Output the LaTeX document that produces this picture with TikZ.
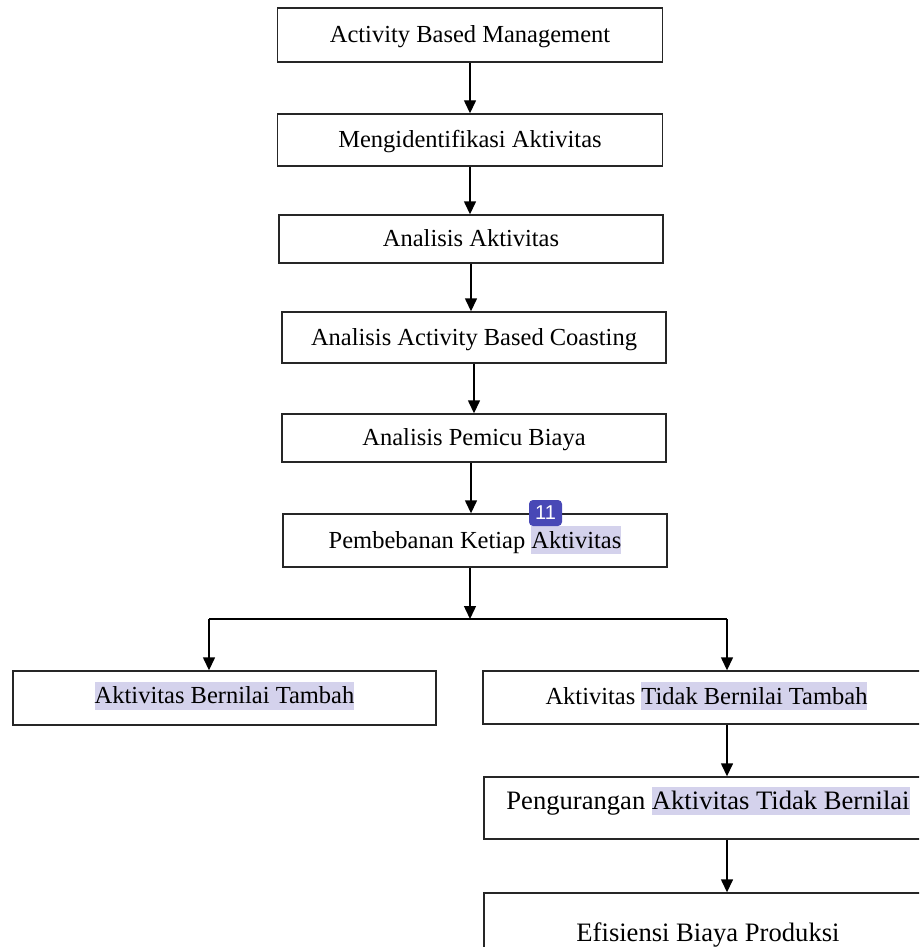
\documentclass[tikz,border=0pt]{standalone}
\usepackage{fontspec}
\setmainfont{Liberation Serif}
\newfontfamily\badgefont{Liberation Sans}
\usetikzlibrary{arrows.meta}
\definecolor{hlcol}{RGB}{212,210,236}
\definecolor{badgecol}{RGB}{72,72,182}
\newcommand{\hlt}[1]{{\setlength{\fboxsep}{0pt}\colorbox{hlcol}{\rule[-6pt]{0pt}{28pt}#1}}}
\begin{document}
\begin{tikzpicture}[x=1pt,y=-1pt,
  box/.style={draw=black!85,line width=1.4pt,inner sep=0pt,text height=15pt,text depth=0pt,
    font=\fontsize{24.5}{29}\selectfont},
  bigbox/.style={box,font=\fontsize{26.6}{31}\selectfont},
  arr/.style={line width=1.4pt,-{Triangle[width=12pt,length=13pt]}}]
\useasboundingbox (0,0) rectangle (919,947);
\clip (0,0) rectangle (919,947);
\node [box,minimum width=385pt,minimum height=54pt] (abm) at (470,35) {Activity Based Management};
\node [box,minimum width=385pt,minimum height=52pt] (ida) at (470,140) {Mengidentifikasi Aktivitas};
\node [box,minimum width=384pt,minimum height=48pt] (ana) at (471,239) {Analisis Aktivitas};
\node [box,minimum width=384pt,minimum height=51pt] (abc) at (474,337.5) {Analisis Activity Based Coasting};
\node [box,minimum width=384pt,minimum height=48pt] (apb) at (474,438) {Analisis Pemicu Biaya};
\node [box,minimum width=384pt,minimum height=53pt] (pka) at (475,540.5) {Pembebanan Ketiap \hlt{Aktivitas}};
\node [box,minimum width=423pt,minimum height=54pt,text height=11pt] (abt) at (224.5,698) {\hlt{Aktivitas Bernilai Tambah}};
\node [box,minimum width=447pt,minimum height=53pt,text height=13pt] (atbt) at (706.5,697.5) {Aktivitas \hlt{Tidak Bernilai Tambah}};
\node [bigbox,minimum width=448pt,text height=32pt,text depth=30pt] (pat) at (708,808) {Pengurangan \hlt{Aktivitas Tidak Bernilai}};
\node [bigbox,minimum width=448pt,text height=48pt,text depth=42pt] (ebp) at (708,938) {Efisiensi Biaya Produksi};
\coordinate (sp) at (470,619);
\coordinate (spL) at (209,619);
\coordinate (spR) at (727,619);
\draw [arr] (abm) -- (ida);
\draw [arr] (ida) -- (ida |- ana.north);
\draw [arr] (ana) -- (ana |- abc.north);
\draw [arr] (abc.south) -- (abc.south |- apb.north);
\draw [arr] (apb.south) ++(-3,0) coordinate (apbS) -- (apbS |- pka.north);
\draw [arr] (pka.south) ++(-5,0) coordinate (pkaS) -- (pkaS |- sp);
\draw [line width=1.4pt] (spL) -- (spR);
\draw [arr] (spL) -- (spL |- abt.north);
\draw [arr] (spR) -- (spR |- atbt.north);
\draw [arr] (spR |- atbt.south) -- (spR |- pat.north);
\draw [arr] (spR |- pat.south) -- (spR |- ebp.north);
\node [fill=badgecol,rounded corners=4pt,minimum width=33pt,minimum height=26pt,inner sep=0pt,
  text=white,font=\badgefont\fontsize{20}{22}\selectfont] (badge) at (545.5,513) {11};
\end{tikzpicture}
\end{document}
